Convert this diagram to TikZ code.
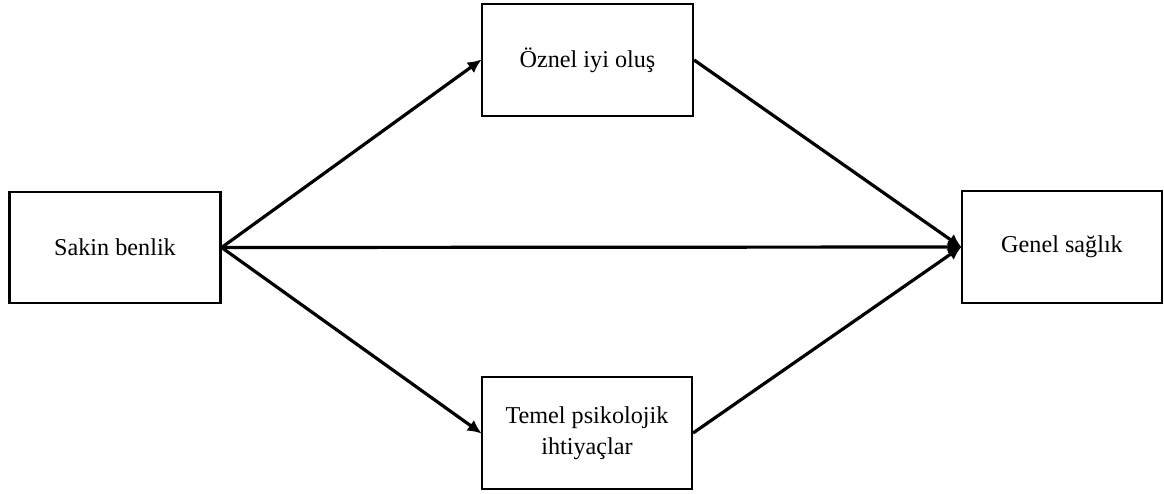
\documentclass[tikz,border=0pt]{standalone}
\usepackage{fontspec}
\setmainfont{Liberation Serif}
\usetikzlibrary{arrows.meta}
\begin{document}
\begin{tikzpicture}[x=1pt,y=-1pt,
  box/.style={draw,line width=2.2pt,minimum width=#1,inner sep=0pt,align=center,font=\fontsize{24.2}{31}\selectfont},
  box/.default=211pt,
  link/.style={line width=3.2pt,-{Latex[length=14pt,width=13pt]},shorten >=-1pt}]
\useasboundingbox (0,0) rectangle (1164,493);
\node[box,minimum height=111pt] (sakin) at (115,247.5) {Sakin benlik};
\node[box,minimum height=112pt] (oznel) at (587.5,60) {Öznel iyi oluş};
\node[box=210pt,minimum height=112pt] (temel) at (587,433) {\rule{0pt}{4pt}Temel psikolojik\\ihtiyaçlar};
\node[box=200pt,minimum height=112pt] (genel) at (1062,247) {\raisebox{-3pt}{Genel sağlık}};
\draw[link] (sakin.east) -- (oznel.west);
\draw[link] (sakin.east) -- (temel.west);
\draw[link] (sakin.east) -- (genel.west);
\draw[link] (oznel.east) -- (genel.west);
\draw[link] (temel.east) -- (genel.west);
\end{tikzpicture}
\end{document}
